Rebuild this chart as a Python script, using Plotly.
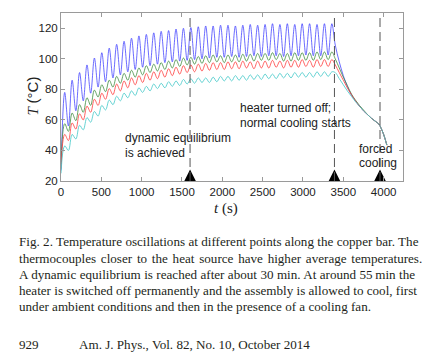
import plotly.graph_objects as go

# ---------------- data ----------------
t_peaks = [46, 138, 230, 322, 414, 506, 598, 690, 782, 874, 966, 1058, 1150, 1242, 1334,
           1426, 1518, 1610, 1702, 1794, 1886, 1978, 2070, 2162, 2254, 2346, 2438, 2530,
           2622, 2714, 2806, 2898, 2990, 3082, 3174, 3266, 3358]
t_troughs = [92, 184, 276, 368, 460, 552, 644, 736, 828, 920, 1012, 1104, 1196, 1288, 1380,
             1472, 1564, 1656, 1748, 1840, 1932, 2024, 2116, 2208, 2300, 2392, 2484, 2576,
             2668, 2760, 2852, 2944, 3036, 3128, 3220, 3312]
t_cool = [3400, 3450, 3500, 3550, 3600, 3650, 3700, 3750, 3800, 3850, 3900, 3945, 3960, 4000, 4040]

blue_start = 27
blue_peaks = [78, 86, 91, 96, 100.5, 104, 107, 109.5, 111.5, 113.5, 115, 116, 117, 118, 118.5,
              119.5, 120, 120.5, 121, 121.5, 121.5, 122, 122, 121.5, 122, 122.5, 122, 122.5,
              123, 122.5, 123, 122.5, 123, 123, 122.5, 123, 123]
blue_troughs = [56, 66, 72.5, 77.5, 81.5, 85, 87.5, 89.5, 91.5, 93, 94.5, 95.5, 96.5, 97.5, 98,
                98.5, 99, 99.5, 100, 100.5, 101, 101, 101.5, 101, 101.5, 102, 101.5, 102, 102,
                101.5, 102, 102, 102.5, 102, 102, 102.5]
blue_cool = [109, 98, 89, 82, 76.5, 72.5, 69, 66, 63.5, 61, 59, 57, 55.5, 50.5, 43.5]

green_start = 31
green_peaks = [57.5, 64.5, 70, 74.5, 79.5, 83, 86, 88.5, 90.5, 92.5, 94, 95.5, 96.5, 97.5, 98.5,
               99.5, 100.5, 101, 101.5, 102, 102.5, 102, 102.5, 102.5, 103, 103, 103.5, 103.5,
               104, 103.5, 103.5, 104, 104, 104, 104.5, 104.5, 104.5]
green_troughs = [52.5, 59.5, 65, 69.5, 75, 78.5, 81.5, 84, 86, 88, 89.5, 91, 92, 93, 94, 95, 96,
                 96.5, 97, 97.5, 98, 97.5, 98, 98, 98.5, 98.5, 99, 99, 99.5, 98.5, 98.5, 99, 99,
                 99, 99.5, 99.5]
green_cool = [100, 94, 88, 82.5, 77, 73, 69.5, 66.5, 63.5, 61, 59, 57, 55.5, 50.5, 43.5]

red_start = 28
red_peaks = [50.5, 58, 64, 69, 73.5, 77.5, 80.5, 83.5, 85.5, 87.5, 89, 90.5, 91.5, 92.5, 93.5,
             94.5, 95.5, 96, 96.5, 97, 97.5, 97.5, 98, 98, 98.5, 98, 98.5, 98.5, 99, 98.5, 99,
             99, 99.5, 99, 99.5, 99.5, 99.5]
red_troughs = [46.5, 54, 60, 65, 69.5, 73.5, 76.5, 79, 81, 83, 84.5, 86, 87, 88, 89, 90, 91, 91.5,
               92, 92.5, 93, 93, 93.5, 93.5, 94, 93.5, 94, 94, 94.5, 94, 94.5, 94.5, 95, 94.5, 95,
               95]
red_cool = [96, 91, 86, 81, 76.5, 72.5, 69, 66, 63.5, 61, 59, 57, 55.5, 50.5, 43.5]

cyan_start = 25
cyan_peaks = [43, 50.5, 56.5, 61.5, 65.5, 69.5, 73, 75.5, 77.5, 79, 81, 82, 83.5, 84, 85, 85.5,
              86.5, 87, 87.5, 87.5, 88, 88.5, 88.5, 89, 89, 89.5, 89.5, 90, 90, 90.5, 90.5, 91,
              91, 91, 91.5, 91.5, 91.5]
cyan_troughs = [40, 47.5, 53.5, 58.5, 62.5, 66.5, 70, 72.5, 74.5, 76, 78, 79, 80.5, 81, 82, 82.5,
                83.5, 84, 84.5, 84.5, 85, 85.5, 85.5, 86, 86, 86.5, 86.5, 87, 87, 87.5, 87.5, 88,
                88, 88, 88.5, 88.5]
cyan_cool = [91, 87, 83, 79, 75.5, 72, 69, 66, 63.5, 61, 59, 57, 55.5, 50.5, 43.5]

event_t = [1600, 3390, 3955]
marker_T = [27.5, 27.5, 27.5]
x_ticks = [0, 500, 1000, 1500, 2000, 2500, 3000, 3500, 4000]
y_ticks = [20, 40, 60, 80, 100, 120]

caption_lines = [
    "Fig. 2. Temperature oscillations at different points along the copper bar. The",
    "thermocouples closer to the heat source have higher average temperatures.",
    "A dynamic equilibrium is reached after about 30 min. At around 55\u2009min the",
    "heater is switched off permanently and the assembly is allowed to cool, first",
    "under ambient conditions and then in the presence of a cooling fan.",
]
caption_wordspacing = [0.1, 1.5, 0.15, 0.0, 0.0]
page_no = "929"
journal = "Am. J. Phys., Vol. 82, No. 10, October 2014"

# ---------------- figure ----------------
L, R, T, B = 61, 21, 13, 177
W, H = 424, 358
PW, PH = W - L - R, H - T - B


def px_x(px):
    return (px - L) / PW


def px_y(py):
    return (H - B - py) / PH


def build(start, peaks, troughs, cool):
    xs, ys = [0], [start]
    for k in range(len(t_peaks)):
        xs.append(t_peaks[k]); ys.append(peaks[k])
        if k < len(t_troughs):
            xs.append(t_troughs[k]); ys.append(troughs[k])
    xs += t_cool
    ys += cool
    return xs, ys


series = [
    (blue_start, blue_peaks, blue_troughs, blue_cool, "#3b3bff", 0.75),
    (green_start, green_peaks, green_troughs, green_cool, "#3f8c3f", 0.8),
    (red_start, red_peaks, red_troughs, red_cool, "#ff3a3a", 0.8),
    (cyan_start, cyan_peaks, cyan_troughs, cyan_cool, "#40c8c8", 0.8),
]

fig = go.Figure()
for st, pk, tr, cl, col, lw in series:
    xs, ys = build(st, pk, tr, cl)
    fig.add_trace(go.Scatter(x=xs, y=ys, mode="lines",
                             line=dict(color=col, width=lw, shape="spline", smoothing=1),
                             hoverinfo="skip", showlegend=False))

for ev in event_t:
    fig.add_shape(type="line", x0=ev, x1=ev, y0=20, y1=130, xref="x", yref="y",
                  line=dict(color="#555555", width=1, dash="9px,5px"))

fig.add_trace(go.Scatter(x=event_t, y=marker_T, mode="markers",
                         marker=dict(symbol="arrow-up", size=11.5, color="black"),
                         cliponaxis=False, hoverinfo="skip", showlegend=False))

axis_common = dict(showgrid=False, zeroline=False, showline=True, linecolor="#9a9a9a",
                   linewidth=1, mirror="ticks", ticks="inside", ticklen=4,
                   tickcolor="#9a9a9a", tickfont=dict(family="Liberation Sans", size=11.5,
                                                       color="#222222"))
fig.update_xaxes(range=[0, 4240], tickvals=x_ticks, **axis_common)
fig.update_yaxes(range=[20, 130], tickvals=y_ticks, **axis_common)

ann_font = dict(family="Liberation Sans", size=12, color="#222222")
ann_lines = [
    ("dynamic equilibrium", 124, 138),
    ("is achieved", 124, 153),
    ("heater turned off;", 239, 108),
    ("normal cooling starts", 239, 122.7),
    ("forced", 358, 149),
    ("cooling", 358, 163),
]
for txt, ax, ay in ann_lines:
    fig.add_annotation(x=px_x(ax), y=px_y(ay), xref="paper", yref="paper", xanchor="left",
                       yanchor="middle", text=txt, showarrow=False, font=ann_font, borderpad=0)

# axis titles
fig.add_annotation(x=px_x(31.5), y=px_y(96), xref="paper", yref="paper", textangle=-90,
                   xanchor="center", yanchor="middle",
                   text="<i>T</i> <span style='font-family:Liberation Sans'>(\u00b0C)</span>",
                   showarrow=False, font=dict(family="Liberation Serif", size=15, color="#222222"))
fig.add_annotation(x=px_x(226), y=px_y(208), xref="paper", yref="paper",
                   xanchor="center", yanchor="middle",
                   text="<i>t</i> (s)", showarrow=False,
                   font=dict(family="Liberation Serif", size=15, color="#222222"))

# caption
cap_font = dict(family="Liberation Serif", size=13.1, color="#231f20")
cap_y = [241.7, 258, 274.3, 290, 306]
for line, ws, yy in zip(caption_lines, caption_wordspacing, cap_y):
    txt = line if ws == 0 else "<span style='word-spacing:%.2fpx'>%s</span>" % (ws, line)
    fig.add_annotation(x=px_x(17), y=px_y(yy), xref="paper", yref="paper", xanchor="left",
                       yanchor="middle", text=txt, showarrow=False, font=cap_font)
fig.add_annotation(x=px_x(17), y=px_y(344.3), xref="paper", yref="paper", xanchor="left",
                   yanchor="middle", text=page_no, showarrow=False, font=cap_font)
fig.add_annotation(x=px_x(77), y=px_y(344.3), xref="paper", yref="paper", xanchor="left",
                   yanchor="middle", text=journal, showarrow=False, font=cap_font)

fig.update_layout(width=W, height=H, margin=dict(l=L, r=R, t=T, b=B, autoexpand=False),
                  plot_bgcolor="white", paper_bgcolor="white")

fig.write_html("out.html", config={"displayModeBar": False},
               post_script="document.body.style.margin='0px';document.body.style.overflow='hidden';")
